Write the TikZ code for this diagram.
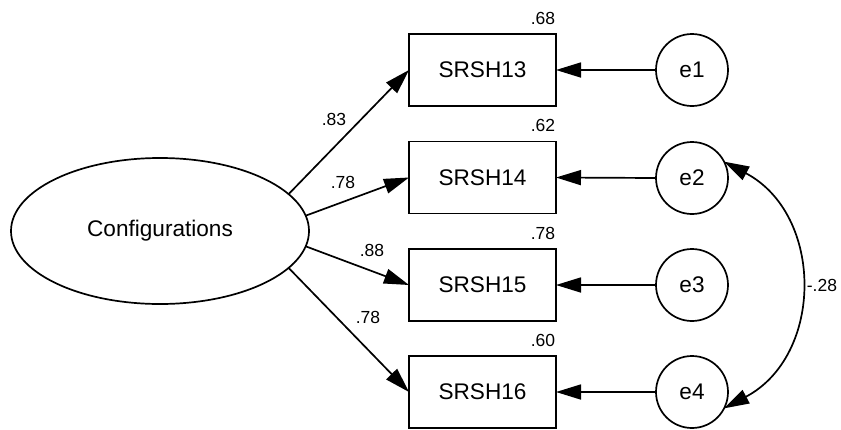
\documentclass[tikz,border=0pt]{standalone}
\usepackage{fontspec}
\setmainfont{Liberation Sans}
\usetikzlibrary{shapes.geometric,arrows.meta}
\begin{document}
\begin{tikzpicture}[x=1pt,y=-1pt,
  line width=1.7pt,
  head/.style={-{Triangle[length=25pt,width=15pt]}},
  dhead/.style={{Triangle[length=25pt,width=15pt]}-{Triangle[length=25pt,width=15pt]}},
  latent/.style={ellipse,draw,minimum width=298pt,minimum height=146pt,inner sep=0pt,outer sep=0pt,font=\fontsize{22.6}{26}\selectfont},
  obs/.style={rectangle,draw,minimum width=147pt,minimum height=72pt,inner sep=0pt,outer sep=0pt,font=\fontsize{22.6}{26}\selectfont},
  err/.style={circle,draw,minimum size=72pt,inner sep=0pt,outer sep=0pt,font=\fontsize{22.6}{26}\selectfont},
  coef/.style={inner sep=0pt,font=\fontsize{17.5}{20}\selectfont}]
\useasboundingbox (0,0) rectangle (841,429);

% latent factor
\node[latent] (conf) at (160,231) {\raisebox{-2pt}{Configurations}};

% observed indicators
\node[obs] (s13) at (482.5,70)  {SRSH13};
\node[obs] (s14) at (482.5,177.5) {SRSH14};
\node[obs] (s15) at (482.5,285) {SRSH15};
\node[obs] (s16) at (482.5,392) {SRSH16};

% error terms
\node[err] (e1) at (692,70)  {e1};
\node[err] (e2) at (692,178) {e2};
\node[err] (e3) at (692,285) {e3};
\node[err] (e4) at (692,392) {e4};

% squared multiple correlations
\node[coef,anchor=base east] (r13) at ([yshift=10pt]s13.north east) {.68};
\node[coef,anchor=base east] (r14) at ([yshift=10pt]s14.north east) {.62};
\node[coef,anchor=base east] (r15) at ([yshift=10pt]s15.north east) {.78};
\node[coef,anchor=base east] (r16) at ([yshift=10pt]s16.north east) {.60};

% factor loadings
\draw[head] (conf.16) -- (s13.west);
\draw[head] (conf.6) -- (s14.west);
\draw[head] (conf.-6) -- (s15.west);
\draw[head] (conf.-16) -- (s16.west);
\node[coef] (l13) at (334,119) {.83};
\node[coef] (l14) at (343,182) {.78};
\node[coef] (l15) at (372,250) {.88};
\node[coef] (l16) at (368,317) {.78};

% error paths
\draw[head] (e1.west) -- (s13.east);
\draw[head] (e2.west) -- (s14.east);
\draw[head] (e3.west) -- (s15.east);
\draw[head] (e4.west) -- (s16.east);

% error covariance
\draw[dhead] (e2.27) .. controls +(100,53) and +(100,-53) .. (e4.-27);
\node[coef,anchor=west] (cov) at (806,285) {-.28};
\end{tikzpicture}
\end{document}
